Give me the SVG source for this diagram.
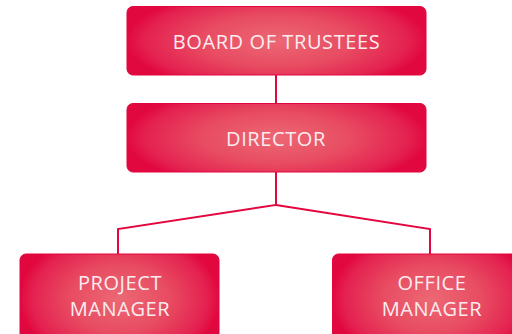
<svg xmlns="http://www.w3.org/2000/svg" width="512" height="334" viewBox="0 0 512 334">
<style>
.box{fill:url(#g);stroke:#e3063f;stroke-width:1}
.lbl{font-family:"Open Sans","Noto Sans",sans-serif;font-size:20px;fill:#fdecef;text-anchor:middle;letter-spacing:0.6px}
.conn{fill:none;stroke:#e3063f;stroke-width:2}
</style>
<defs>
<radialGradient id="g" cx="0.5" cy="0.5" r="0.55" gradientTransform="translate(0.5,0.5) scale(1,1.5) translate(-0.5,-0.5)">
<stop offset="0" stop-color="#ec6874"/>
<stop offset="0.45" stop-color="#e84c62"/>
<stop offset="0.8" stop-color="#e42150"/>
<stop offset="0.92" stop-color="#e1073f"/>
</radialGradient>
</defs>
<rect width="512" height="334" fill="#ffffff"/>
<g id="connectors">
<path class="conn" d="M276 75V103"/>
<path class="conn" d="M276 172V205L118 229V254"/>
<path class="conn" d="M276 205L430 229V254"/>
</g>
<g id="board">
<rect class="box" x="127" y="6.5" width="299" height="68.5" rx="6"/>
<text class="lbl" x="276.5" y="49">BOARD OF TRUSTEES</text>
</g>
<g id="director">
<rect class="box" x="127" y="103.5" width="299" height="68.5" rx="6"/>
<text class="lbl" x="276" y="146">DIRECTOR</text>
</g>
<g id="project-manager">
<rect class="box" x="20" y="254" width="199" height="90" rx="6"/>
<text class="lbl" x="120" y="290">PROJECT</text>
<text class="lbl" x="120" y="316">MANAGER</text>
</g>
<g id="office-manager">
<rect class="box" x="332.5" y="254" width="199" height="90" rx="6"/>
<text class="lbl" x="432" y="290">OFFICE</text>
<text class="lbl" x="432" y="316">MANAGER</text>
</g>
</svg>
